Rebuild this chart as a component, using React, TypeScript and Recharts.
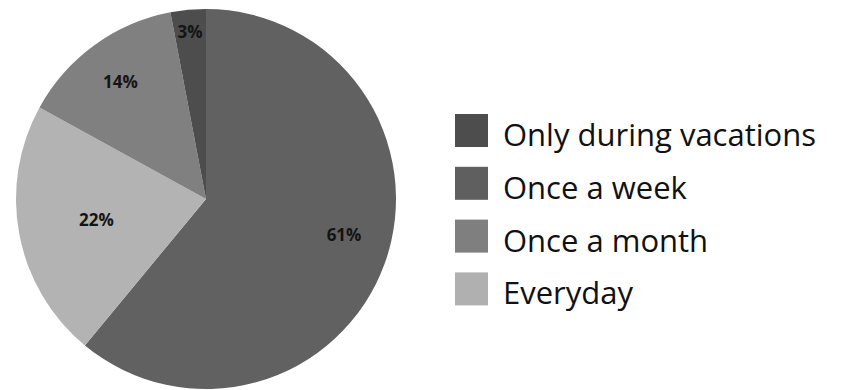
import React from "react";
import { PieChart, Pie, Cell, Legend } from "recharts";

// Data (slice order clockwise from 12 o'clock, as in the picture)
const sliceNames = ["Once a week", "Everyday", "Once a month", "Only during vacations"];
const sliceValues = [61, 22, 14, 3];
const sliceColors = ["#616161", "#b3b3b3", "#808080", "#4d4d4d"];

// Legend order
const legendNames = ["Only during vacations", "Once a week", "Once a month", "Everyday"];
const legendColors = ["#4d4d4d", "#5f5f5f", "#7f7f7f", "#b0b0b0"];

// Label placement tweaks (fraction of radius, angle offset in degrees)
const labelRadiusFrac = [0.75, 0.587, 0.767, 0.888];
const labelAngleOffset = [5.4, 0, 0, 0];

const data = sliceNames.map((name, i) => ({ name, value: sliceValues[i] }));

const RADIAN = Math.PI / 180;
const FONT = "'Open Sans', 'Noto Sans', sans-serif";

const renderLabel = (props: any) => {
  const { cx, cy, midAngle, outerRadius, index, value } = props;
  const r = outerRadius * labelRadiusFrac[index];
  const a = (midAngle + labelAngleOffset[index]) * RADIAN;
  const x = cx + r * Math.cos(-a);
  const y = cy + r * Math.sin(-a);
  return (
    <text
      x={x}
      y={y}
      textAnchor="middle"
      dominantBaseline="central"
      fill="#141414"
      fontFamily={FONT}
      fontWeight={700}
      fontSize={17}
    >
      {`${value}%`}
    </text>
  );
};

const renderLegend = () => (
  <svg width={390} height={200} style={{ display: "block", overflow: "visible" }}>
    {legendNames.map((name, i) => {
      const top = i * 52.8;
      return (
        <g key={name}>
          <rect x={0} y={top} width={33} height={33} fill={legendColors[i]} />
          <text
            x={48}
            y={top + 32}
            fill="#111"
            fontFamily={FONT}
            fontSize={31}
          >
            {name}
          </text>
        </g>
      );
    })}
  </svg>
);

export default function App() {
  return (
    <div style={{ position: "absolute", left: 0, top: 0, width: 847, height: 390, background: "#fff" }}>
      <PieChart width={847} height={390} margin={{ top: 0, right: 0, bottom: 0, left: 0 }}>
        <Pie
          data={data}
          dataKey="value"
          nameKey="name"
          cx={206}
          cy={199}
          outerRadius={190}
          startAngle={90}
          endAngle={-270}
          stroke="none"
          labelLine={false}
          label={renderLabel}
          isAnimationActive={false}
        >
          {data.map((d, i) => (
            <Cell key={d.name} fill={sliceColors[i]} />
          ))}
        </Pie>
        <Legend
          content={renderLegend}
          wrapperStyle={{ position: "absolute", left: 455, top: 114, width: 390, height: 200, overflow: "visible" }}
        />
      </PieChart>
    </div>
  );
}
